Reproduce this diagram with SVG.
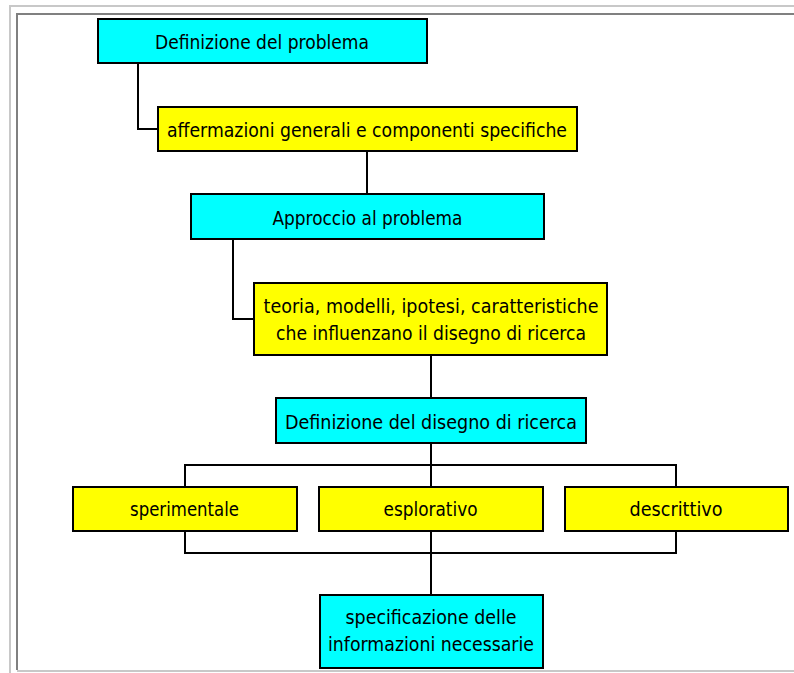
<svg xmlns="http://www.w3.org/2000/svg" width="794" height="673" viewBox="0 0 794 673">
<style>
.box{stroke:#000;stroke-width:2}
.cyan{fill:#00ffff}
.yellow{fill:#ffff00}
.lbl{font-family:"DejaVu Sans","Liberation Sans",sans-serif;font-size:20px;fill:#000;text-anchor:middle}
.conn{fill:none;stroke:#000;stroke-width:2}
</style>
<rect x="0" y="0" width="794" height="673" fill="#ffffff"/>
<g id="frame">
<path d="M10,673 V6 H794" fill="none" stroke="#c8c8c8" stroke-width="2"/>
<path d="M17,670 V14 H794" fill="none" stroke="#808080" stroke-width="2"/>
<path d="M17,671 H794" fill="none" stroke="#c8c8c8" stroke-width="2"/>
</g>
<g id="connectors">
<path class="conn" d="M138,63 V129 H158"/>
<path class="conn" d="M367,151 V194"/>
<path class="conn" d="M233,239 V319 H254"/>
<path class="conn" d="M431,355 V398"/>
<path class="conn" d="M431,443 V487"/>
<path class="conn" d="M185,487 V465 H676 V487"/>
<path class="conn" d="M185,531 V553 H676 V531"/>
<path class="conn" d="M431,531 V595"/>
</g>
<g id="n1">
<rect class="box cyan" x="98" y="19" width="329" height="44"/>
<text class="lbl" x="262" y="49" textLength="214" lengthAdjust="spacingAndGlyphs">Definizione del problema</text>
</g>
<g id="n2">
<rect class="box yellow" x="158" y="107" width="419" height="44"/>
<text class="lbl" x="367" y="137" textLength="400" lengthAdjust="spacingAndGlyphs">affermazioni generali e componenti specifiche</text>
</g>
<g id="n3">
<rect class="box cyan" x="191" y="194" width="353" height="45"/>
<text class="lbl" x="367.5" y="224.5" textLength="190" lengthAdjust="spacingAndGlyphs">Approccio al problema</text>
</g>
<g id="n4">
<rect class="box yellow" x="254" y="283" width="353" height="72"/>
<text class="lbl" x="431" y="313" textLength="335" lengthAdjust="spacingAndGlyphs">teoria, modelli, ipotesi, caratteristiche</text>
<text class="lbl" x="431" y="340" textLength="310" lengthAdjust="spacingAndGlyphs">che influenzano il disegno di ricerca</text>
</g>
<g id="n5">
<rect class="box cyan" x="276" y="398" width="310" height="45"/>
<text class="lbl" x="431" y="428.5" textLength="292" lengthAdjust="spacingAndGlyphs">Definizione del disegno di ricerca</text>
</g>
<g id="n6">
<rect class="box yellow" x="73" y="487" width="224" height="44"/>
<text class="lbl" x="184.5" y="515.5" textLength="109" lengthAdjust="spacingAndGlyphs">sperimentale</text>
</g>
<g id="n7">
<rect class="box yellow" x="319" y="487" width="224" height="44"/>
<text class="lbl" x="430.5" y="515.5" textLength="94" lengthAdjust="spacingAndGlyphs">esplorativo</text>
</g>
<g id="n8">
<rect class="box yellow" x="565" y="487" width="223" height="44"/>
<text class="lbl" x="676" y="515.5" textLength="93" lengthAdjust="spacingAndGlyphs">descrittivo</text>
</g>
<g id="n9">
<rect class="box cyan" x="320" y="595" width="223" height="73"/>
<text class="lbl" x="431" y="624" textLength="171" lengthAdjust="spacingAndGlyphs">specificazione delle</text>
<text class="lbl" x="431" y="651" textLength="206" lengthAdjust="spacingAndGlyphs">informazioni necessarie</text>
</g>
</svg>
